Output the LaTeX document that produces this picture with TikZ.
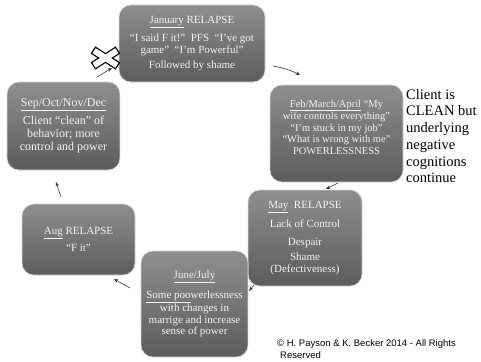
\documentclass[tikz,border=0pt]{standalone}
\usepackage{fontspec}
\setmainfont{Liberation Serif}
\newfontfamily\copyfont{Liberation Sans}
\usetikzlibrary{arrows.meta}

\definecolor{boxtop}{HTML}{8E8E8E}
\definecolor{boxbottom}{HTML}{5C5C5C}
\definecolor{boxedge}{HTML}{D4D4D4}
\definecolor{boxtext}{HTML}{F2F2F2}
\definecolor{arrowgray}{HTML}{333333}

\begin{document}
\begin{tikzpicture}[x=1pt,y=-1pt,
  phase/.style={rectangle, rounded corners=12pt, draw=boxedge, line width=0.6pt,
    top color=boxtop, bottom color=boxbottom, text=boxtext, align=center,
    inner sep=2pt, font=\fontsize{11}{11.5}\selectfont},
  phasetext/.style={text=boxtext, align=center, inner sep=0pt},
  flow/.style={draw=arrowgray, line width=0.6pt, -{Stealth[length=4.5pt,width=3.5pt]}},
  crossout/.style={line width=8.5pt, draw=black},
  crossin/.style={line width=6pt, draw=white, shorten >=1.3pt, shorten <=1.3pt},
]
\useasboundingbox (0,0) rectangle (481,361);

% cycle of phases
\node[phase, minimum width=146pt, minimum height=77pt, font=\fontsize{11}{12}\selectfont] (jan) at (192,43.5)
  {\underline{January} RELAPSE\\[5pt]
   “I said F it!”\ \ PFS\ \ “I’ve got\\
   game”\ \ “I’m Powerful”\\[3pt]
   Followed by shame};

\node[phase, minimum width=133pt, minimum height=97pt] (feb) at (336.5,133.5) {};
\node[phasetext, font=\fontsize{10.5}{11.5}\selectfont] (febtext) at (336.5,127)
  {\underline{Feb/March/April} “My\\
   wife controls everything”\\
   “I’m stuck in my job”\\
   “What is wrong with me”\\
   POWERLESSNESS};

\node[phase, minimum width=114pt, minimum height=96pt] (may) at (305,238)
  {\underline{May}\ \ RELAPSE\\[6pt]
   Lack of Control\\[6pt]
   Despair\\[4pt]
   Shame\\
   (Defectiveness)};

\node[phase, minimum width=107pt, minimum height=106pt] (june) at (194.5,304)
  {\underline{June/July}\\[7pt]
   \underline{Some poo}werlessness\\
   with changes in\\
   marrige and increase\\
   sense of power};

\node[phase, minimum width=113pt, minimum height=71pt] (aug) at (78.5,239.5)
  {\underline{Aug} RELAPSE\\[5pt]
   “F it”};

\node[phase, minimum width=113pt, minimum height=88pt, font=\fontsize{12}{13}\selectfont] (sep) at (63.5,126)
  {\underline{Sep/Oct/Nov/Dec}\\[4pt]
   Client “clean” of\\
   behavior; more\\
   control and power};

% arrows between the phases
\coordinate (sepout) at (97,77);   \coordinate (janin) at (112,68);
\coordinate (janout) at (273,66);  \coordinate (febin) at (300,75);
\coordinate (febout) at (338,183); \coordinate (mayin) at (326,189);
\coordinate (mayout) at (254,285); \coordinate (junein) at (249,291);
\coordinate (juneout) at (130,288);\coordinate (augin) at (114,279);
\coordinate (augout) at (61,197);  \coordinate (sepin) at (56,182);

\draw[flow] (sepout) -- (janin);
\draw[flow] (janout) to[bend left=8] (febin);
\draw[flow] (febout) -- (mayin);
\draw[flow] (mayout) -- (junein);
\draw[flow] (juneout) -- (augin);
\draw[flow] (augout) -- (sepin);

% crossed-out mark
\coordinate (xa) at (93,50);  \coordinate (xb) at (118,66);
\coordinate (xc) at (118,50); \coordinate (xd) at (93,66);
\draw[crossout] (xa) -- (xb);
\draw[crossout] (xc) -- (xd);
\draw[crossin] (xa) -- (xb);
\draw[crossin] (xc) -- (xd);

% side note and credit
\node[align=left, anchor=north west, inner sep=0pt, font=\fontsize{14.5}{16.7}\selectfont] (note) at (406,89)
  {Client is\\ CLEAN but\\ underlying\\ negative\\ cognitions\\ continue};

\node[align=left, anchor=north west, inner sep=0pt, font=\copyfont\fontsize{9.5}{12}\selectfont] (credit) at (277,339)
  {© H. Payson \& K. Becker 2014 - All Rights\\ \hspace*{3pt}Reserved};
\end{tikzpicture}
\end{document}
